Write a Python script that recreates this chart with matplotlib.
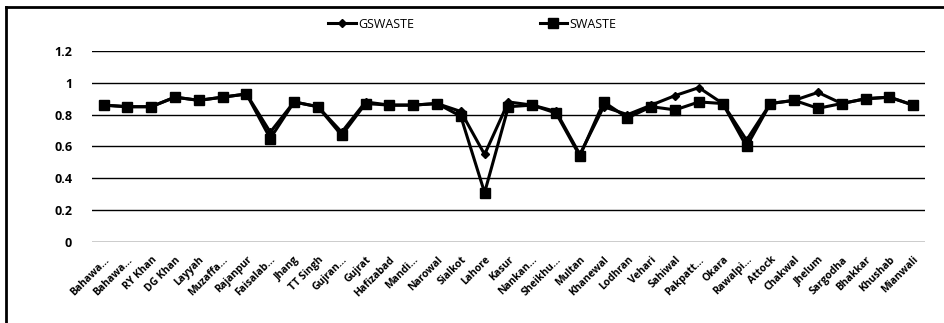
import numpy as np
import matplotlib.pyplot as plt
from matplotlib.lines import Line2D

districts = ["Bahawa...", "Bahawa...", "RY Khan", "DG Khan", "Layyah", "Muzaffa...",
             "Rajanpur", "Faisalab...", "Jhang", "TT Singh", "Gujran...", "Gujrat",
             "Hafizabad", "Mandi...", "Narowal", "Sialkot", "Lahore", "Kasur",
             "Nankan...", "Sheikhu...", "Multan", "Khanewal", "Lodhran", "Vehari",
             "Sahiwal", "Pakpatt...", "Okara", "Rawalpi...", "Attock", "Chakwal",
             "Jhelum", "Sargodha", "Bhakkar", "Khushab", "Mianwali"]

gswaste = [0.86, 0.85, 0.85, 0.91, 0.89, 0.91, 0.93, 0.69, 0.88, 0.85, 0.69, 0.88,
           0.86, 0.86, 0.87, 0.82, 0.55, 0.88, 0.86, 0.82, 0.55, 0.85, 0.80, 0.86,
           0.92, 0.97, 0.87, 0.64, 0.87, 0.89, 0.94, 0.87, 0.90, 0.91, 0.86]
swaste = [0.86, 0.85, 0.85, 0.91, 0.89, 0.91, 0.93, 0.65, 0.88, 0.85, 0.67, 0.87,
          0.86, 0.86, 0.87, 0.79, 0.31, 0.85, 0.86, 0.81, 0.54, 0.88, 0.78, 0.85,
          0.83, 0.88, 0.87, 0.60, 0.87, 0.89, 0.84, 0.87, 0.90, 0.91, 0.86]

plt.rcParams['font.family'] = ['Liberation Sans Narrow', 'Open Sans', 'DejaVu Sans']

fig = plt.figure(figsize=(9.45, 3.23), dpi=100)
ax = fig.add_axes([0.097, 0.251, 0.882, 0.591])

x = np.arange(len(districts))
ax.plot(x, gswaste, color="black", lw=2.2, marker="D", markersize=4.5, label="GSWASTE")
ax.plot(x, swaste, color="black", lw=2.2, marker="s", markersize=7, label="SWASTE")

ax.set_xlim(-0.5, len(districts) - 0.5)
ax.set_ylim(0, 1.2)
ax.set_yticks([0, 0.2, 0.4, 0.6, 0.8, 1, 1.2])
ax.set_yticklabels(["0", "0.2", "0.4", "0.6", "0.8", "1", "1.2"], fontsize=9, fontweight="bold")
ax.set_xticks(x)
ax.set_xticklabels(districts, rotation=45, ha="right", rotation_mode="anchor",
                   fontsize=7.5, fontweight="bold")
ax.tick_params(length=0, pad=14, axis="y")
ax.tick_params(length=0, pad=9, axis="x")
ax.grid(axis="y", color="black", lw=1)
ax.set_axisbelow(True)
for s in ax.spines.values():
    s.set_visible(False)

fig.legend(loc="upper center", bbox_to_anchor=(0.5, 0.98), ncol=2, frameon=False,
           fontsize=9, columnspacing=10, handlelength=2.2, handletextpad=0.2)

# picture frame: only the top and left edges show in the original
fig.add_artist(Line2D([0.006, 1.0], [0.978, 0.978], transform=fig.transFigure,
                      color="black", lw=2))
fig.add_artist(Line2D([0.006, 0.006], [0.0, 0.978], transform=fig.transFigure,
                      color="black", lw=2))

fig.savefig("out.png", dpi=100)
